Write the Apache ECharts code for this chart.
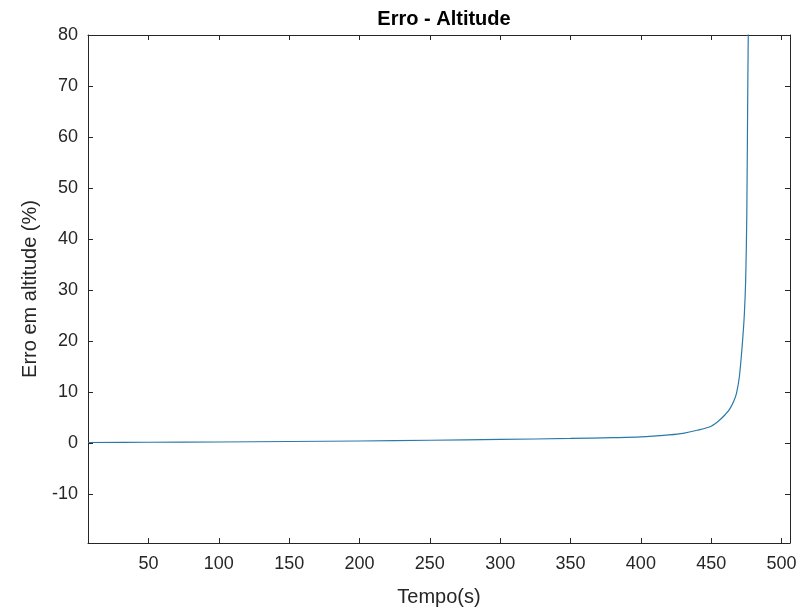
<!DOCTYPE html>
<html>
<head>
<meta charset="utf-8">
<script src="https://cdn.jsdelivr.net/npm/echarts@6/dist/echarts.min.js"></script>
<style>
  html, body { margin: 0; padding: 0; background: #fff; }
  #chart { width: 802px; height: 614px; }
</style>
</head>
<body>
<div id="chart"></div>
<script>
// tempo (s) and erro (%)
const tempo = [7, 50, 100, 150, 200, 250, 300, 350, 380, 400, 420, 430, 440, 450, 456, 460, 463, 466, 468, 470, 472, 473.5, 474.5, 475.3, 476, 476.5];
const erro = [0.1, 0.15, 0.2, 0.3, 0.4, 0.55, 0.7, 0.9, 1.05, 1.2, 1.6, 1.9, 2.5, 3.3, 4.5, 5.6, 6.6, 8.2, 9.8, 13, 19, 25, 32, 45, 70, 85];
const xTicks = [50, 100, 150, 200, 250, 300, 350, 400, 450, 500];
const yTicks = [-10, 0, 10, 20, 30, 40, 50, 60, 70, 80];

const chart = echarts.init(document.getElementById('chart'));

const font = 'Liberation Sans, Arial, sans-serif';
const axisColor = '#262626';

function boxAxis(extra) {
  return Object.assign({
    type: 'value',
    axisLine: { show: true, onZero: false, lineStyle: { color: axisColor, width: 1 } },
    axisTick: { show: true, inside: true, length: 5, lineStyle: { color: axisColor } },
    splitLine: { show: false },
    axisLabel: { show: false }
  }, extra);
}

const xr = { min: 7, max: 506 };
const yr = { min: -19.6, max: 80 };

chart.setOption({
  backgroundColor: '#ffffff',
  animation: false,
  title: {
    text: 'Erro - Altitude',
    left: 439, top: 4, textAlign: 'center',
    textStyle: { fontFamily: font, fontSize: 20, fontWeight: 'bold', color: '#000' }
  },
  grid: { left: 88, right: 12, top: 35, bottom: 71 },
  xAxis: [
    boxAxis({
      position: 'bottom', min: xr.min, max: xr.max,
      name: 'Tempo(s)', nameLocation: 'middle', nameGap: 44,
      nameTextStyle: { fontFamily: font, fontSize: 20, color: axisColor },
      axisTick: { show: true, inside: true, length: 5, lineStyle: { color: axisColor }, customValues: xTicks },
      axisLabel: { show: true, customValues: xTicks, margin: 12, fontFamily: font, fontSize: 18, color: axisColor }
    }),
    boxAxis({
      position: 'top', min: xr.min, max: xr.max,
      axisTick: { show: true, inside: true, length: 5, lineStyle: { color: axisColor }, customValues: xTicks }
    })
  ],
  yAxis: [
    boxAxis({
      position: 'left', min: yr.min, max: yr.max,
      name: 'Erro em altitude (%)', nameLocation: 'middle', nameGap: 48,
      nameTextStyle: { fontFamily: font, fontSize: 20, color: axisColor },
      axisTick: { show: true, inside: true, length: 5, lineStyle: { color: axisColor }, customValues: yTicks },
      axisLabel: { show: true, customValues: yTicks, margin: 10, fontFamily: font, fontSize: 18, color: axisColor }
    }),
    boxAxis({
      position: 'right', min: yr.min, max: yr.max,
      axisTick: { show: true, inside: true, length: 5, lineStyle: { color: axisColor }, customValues: yTicks }
    })
  ],
  series: [{
    type: 'line',
    data: tempo.map((t, i) => [t, erro[i]]),
    showSymbol: false,
    smooth: 0.3,
    clip: true,
    lineStyle: { color: '#2a7aa8', width: 1.2 }
  }]
});
</script>
</body>
</html>
